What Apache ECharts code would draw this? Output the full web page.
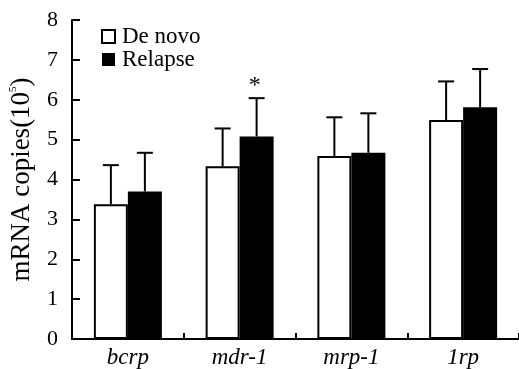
<!DOCTYPE html>
<html>
<head>
<meta charset="utf-8">
<script src="https://cdn.jsdelivr.net/npm/echarts@6/dist/echarts.min.js"></script>
<style>
  html, body { margin: 0; padding: 0; background: #fff; }
  #chart { width: 519px; height: 369px; }
</style>
</head>
<body>
<div id="chart"></div>
<script>
// genes on the x axis
const genes = ['bcrp', 'mdr-1', 'mrp-1', '1rp'];
// mean mRNA copies (x10^5)
const deNovo = [3.38, 4.33, 4.59, 5.49];
const relapse = [3.70, 5.08, 4.67, 5.81];
// standard deviation (drawn upward only)
const deNovoSd = [0.98, 0.95, 0.97, 0.97];
const relapseSd = [0.97, 0.96, 0.99, 0.96];
// significance marks for relapse
const relapseSig = ['', '*', '', ''];

const font = 'Liberation Serif';
const barW = 34;

const errorSeries = (vals, sds, marks, shift) => ({
  type: 'custom',
  silent: true,
  z: 5,
  data: vals.map((v, i) => [i, v, v + sds[i], marks ? marks[i] : '']),
  renderItem: (params, api) => {
    const base = api.coord([api.value(0), api.value(1)]);
    const top = api.coord([api.value(0), api.value(2)]);
    const x = base[0] + shift;
    const style = { stroke: '#000', lineWidth: 2 };
    const children = [
      { type: 'line', shape: { x1: x, y1: base[1], x2: x, y2: top[1] }, style },
      { type: 'line', shape: { x1: x - 8, y1: top[1], x2: x + 8, y2: top[1] }, style }
    ];
    const mark = api.value(3);
    if (mark) {
      children.push({
        type: 'text',
        style: { text: mark, x: x - 2, y: top[1], textAlign: 'center', textVerticalAlign: 'bottom', fontFamily: font, fontSize: 24, fill: '#000' }
      });
    }
    return { type: 'group', children };
  }
});

const chart = echarts.init(document.getElementById('chart'));

chart.setOption({
  animation: false,
  textStyle: { fontFamily: font, color: '#000' },
  grid: { left: 71, top: 20, width: 454, height: 320 },
  legend: {
    orient: 'vertical',
    left: 96,
    top: 20,
    itemWidth: 13,
    itemHeight: 13,
    itemGap: 0,
    icon: 'rect',
    formatter: (name) => '{t|' + name + '}',
    textStyle: {
      color: '#000',
      rich: { t: { fontFamily: font, fontSize: 23, lineHeight: 22, color: '#000', padding: [0, 0, 0, 2] } }
    },
    data: ['De novo', 'Relapse']
  },
  xAxis: {
    type: 'category',
    data: genes,
    axisLine: { lineStyle: { color: '#000', width: 2 } },
    axisTick: { show: true, inside: true, length: 6, lineStyle: { color: '#000', width: 2 } },
    axisLabel: {
      margin: 7,
      formatter: (v) => '{t|' + v + '}',
      rich: { t: { fontFamily: font, fontStyle: 'italic', fontSize: 23, color: '#000' } }
    }
  },
  yAxis: {
    type: 'value',
    min: 0,
    max: 8,
    interval: 1,
    name: '{a|mRNA copies(10}{s|5}{a|)}',
    nameLocation: 'middle',
    nameGap: 37,
    nameTextStyle: {
      rich: {
        a: { fontFamily: font, fontSize: 27, color: '#000' },
        s: { fontFamily: font, fontSize: 11, color: '#000', verticalAlign: 'top', padding: [0, 0, 10, 0] }
      }
    },
    splitLine: { show: false },
    axisLine: { show: true, lineStyle: { color: '#000', width: 2 } },
    axisTick: { show: true, inside: true, length: 8, lineStyle: { color: '#000', width: 2 } },
    axisLabel: {
      margin: 14,
      formatter: (v) => '{t|' + v + '}',
      rich: { t: { fontFamily: font, fontSize: 22, color: '#000' } }
    }
  },
  series: [
    {
      name: 'De novo',
      type: 'bar',
      barWidth: barW,
      barGap: '0%',
      data: deNovo,
      itemStyle: { color: '#fff', borderColor: '#000', borderWidth: 2 }
    },
    {
      name: 'Relapse',
      type: 'bar',
      barWidth: barW,
      barGap: '0%',
      data: relapse,
      itemStyle: { color: '#000', borderColor: '#000', borderWidth: 0 }
    },
    errorSeries(deNovo, deNovoSd, null, -barW / 2),
    errorSeries(relapse, relapseSd, relapseSig, barW / 2)
  ]
});
</script>
</body>
</html>
